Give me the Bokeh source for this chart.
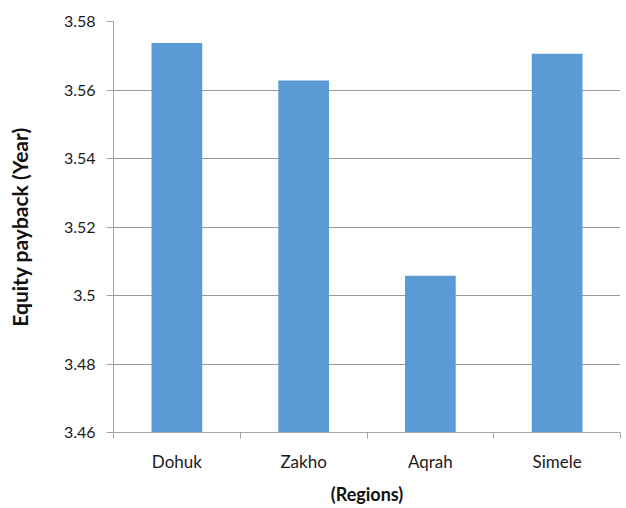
from bokeh.plotting import figure
from bokeh.models import ColumnDataSource, FixedTicker, Range1d
from bokeh.embed import file_html
from bokeh.resources import INLINE

regions = ["Dohuk", "Zakho", "Aqrah", "Simele"]
payback = [3.5737, 3.5628, 3.5058, 3.5706]
y_ticks = [3.46, 3.48, 3.50, 3.52, 3.54, 3.56, 3.58]
y_tick_labels = ["3.46", "3.48", "3.5", "3.52", "3.54", "3.56", "3.58"]

xpos = [i + 0.5 for i in range(len(regions))]
src = ColumnDataSource(dict(x=xpos, top=payback, name=regions))

FONT = "Lato"
GRAY = "#a6a6a6"

p = figure(width=624, height=508, output_backend="svg", toolbar_location=None,
           x_range=Range1d(0, len(regions)), y_range=Range1d(3.46, 3.58),
           min_border_left=113, min_border_top=21, min_border_bottom=76, min_border_right=4)
p.outline_line_color = None
p.background_fill_color = "white"

p.vbar(x="x", top="top", bottom=3.46, width=0.4, source=src,
       fill_color="#5b9bd5", line_color=None)

# x axis
p.xaxis.ticker = FixedTicker(ticks=xpos, minor_ticks=list(range(len(regions) + 1)))
p.xaxis.major_label_overrides = {x: r for x, r in zip(xpos, regions)}
p.xaxis.major_tick_line_color = None
p.xaxis.major_tick_out = 0
p.xaxis.major_tick_in = 0
p.xaxis.minor_tick_line_color = GRAY
p.xaxis.minor_tick_out = 6
p.xaxis.minor_tick_in = 0
p.xaxis.axis_line_color = GRAY
p.xaxis.major_label_standoff = 12
p.xaxis.major_label_text_font = FONT
p.xaxis.major_label_text_font_size = "17px"
p.xaxis.major_label_text_color = "#1a1a1a"
p.xaxis.axis_label = "(Regions)"
p.xaxis.axis_label_text_font = FONT
p.xaxis.axis_label_text_font_size = "18px"
p.xaxis.axis_label_text_font_style = "bold"
p.xaxis.axis_label_text_color = "#111111"
p.xaxis.axis_label_standoff = 8

# y axis
p.yaxis.ticker = FixedTicker(ticks=y_ticks, minor_ticks=[])
p.yaxis.major_label_overrides = {t: l for t, l in zip(y_ticks, y_tick_labels)}
p.yaxis.axis_line_color = GRAY
p.yaxis.major_tick_line_color = GRAY
p.yaxis.major_tick_out = 7
p.yaxis.major_tick_in = 0
p.yaxis.minor_tick_line_color = None
p.yaxis.major_label_standoff = 11
p.yaxis.major_label_text_font = FONT
p.yaxis.major_label_text_font_size = "16px"
p.yaxis.major_label_text_color = "#1a1a1a"
p.yaxis.axis_label = "Equity payback (Year)"
p.yaxis.axis_label_text_font = FONT
p.yaxis.axis_label_text_font_size = "21px"
p.yaxis.axis_label_text_font_style = "bold"
p.yaxis.axis_label_text_color = "#111111"
p.yaxis.axis_label_standoff = 29

p.xgrid.grid_line_color = None
p.ygrid.grid_line_color = "#999999"
p.ygrid.grid_line_width = 1

open("out.html", "w").write(file_html(p, INLINE))
